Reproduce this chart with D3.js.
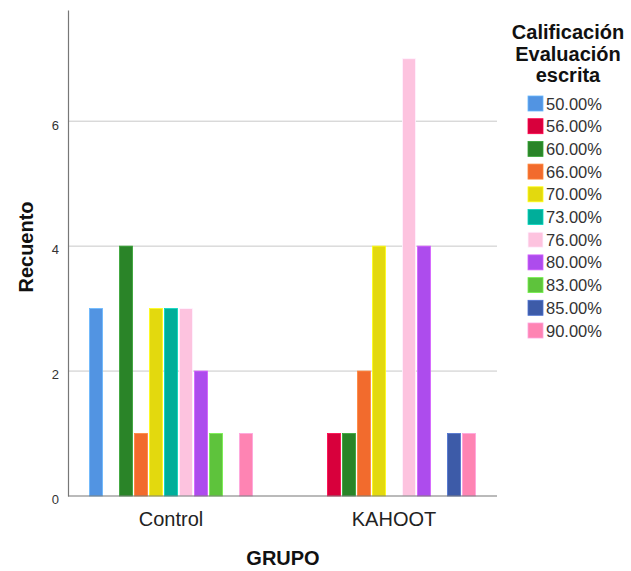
<!DOCTYPE html>
<html>
<head>
<meta charset="utf-8">
<script src="https://cdn.jsdelivr.net/npm/d3@7"></script>
<style>
  body { margin: 0; background: #fff; }
  text { font-family: "Liberation Sans", Arial, sans-serif; }
</style>
</head>
<body>
<div id="chart-area"></div>
<script>
// data
var groups = ["Control", "KAHOOT"];
var grades = ["50.00%", "56.00%", "60.00%", "66.00%", "70.00%", "73.00%", "76.00%", "80.00%", "83.00%", "85.00%", "90.00%"];
var controlCounts = [3, 0, 4, 1, 3, 3, 3, 2, 1, 0, 1];
var kahootCounts  = [0, 1, 1, 2, 4, 0, 7, 4, 0, 1, 1];
var gradeColors = ["#5294e2", "#d8003c", "#2a8428", "#f26b2d", "#e3d90e", "#00ae9a", "#fdc3df", "#ad4ced", "#5ec33c", "#3d5ba8", "#fe84b3"];
var yTicks = [0, 2, 4, 6];

var width = 631, height = 571;
var plot = {left: 68, right: 497, top: 10, bottom: 496};

var svg = d3.select("#chart-area")
    .append("svg")
    .attr("width", width)
    .attr("height", height);

var rows = [];
groups.forEach((g, gi) => {
    var counts = gi === 0 ? controlCounts : kahootCounts;
    grades.forEach((k, ki) => {
        rows.push({group: g, grade: k, value: counts[ki]});
    });
});

var x0 = d3.scaleBand()
    .domain(groups)
    .range([plot.left, plot.right])
    .paddingInner(0.26)
    .paddingOuter(0.092);

var x1 = d3.scaleBand()
    .domain(grades)
    .range([0, x0.bandwidth()])
    .paddingInner(0.13)
    .paddingOuter(0.065);

var y = d3.scaleLinear()
    .domain([0, 7.78])
    .range([plot.bottom, plot.top]);

var color = d3.scaleOrdinal()
    .domain(grades)
    .range(gradeColors);

// gridlines
svg.append("g")
    .selectAll("line")
    .data(yTicks.filter((d) => d > 0))
    .enter()
    .append("line")
        .attr("x1", plot.left)
        .attr("x2", plot.right)
        .attr("y1", (d) => y(d))
        .attr("y2", (d) => y(d))
        .attr("stroke", "#c8c8c8")
        .attr("stroke-width", 1);

// bars
svg.append("g")
    .selectAll("rect")
    .data(rows.filter((d) => d.value > 0))
    .enter()
    .append("rect")
        .attr("x", (d) => x0(d.group) + x1(d.grade))
        .attr("y", (d) => y(d.value))
        .attr("width", x1.bandwidth())
        .attr("height", (d) => y(0) - y(d.value))
        .attr("fill", (d) => color(d.grade))
        .attr("stroke", (d) => d3.color(color(d.grade)).brighter(0.6))
        .attr("stroke-width", 0.8);

// y axis
var yAxisCall = d3.axisLeft(y)
    .tickValues(yTicks)
    .tickSize(0)
    .tickPadding(9)
    .tickFormat(d3.format("d"));
var yAxis = svg.append("g")
    .attr("transform", "translate(" + plot.left + ",0)")
    .call(yAxisCall);
yAxis.select(".domain").attr("stroke", "#777").attr("stroke-width", 1.2);
yAxis.selectAll("text")
    .attr("font-size", "13px")
    .attr("fill", "#333")
    .attr("dy", "0.6em");

// x axis
var xAxisCall = d3.axisBottom(x0).tickSize(0).tickPadding(16);
var xAxis = svg.append("g")
    .attr("transform", "translate(0," + plot.bottom + ")")
    .call(xAxisCall);
xAxis.select(".domain")
    .attr("d", "M" + plot.left + ",0H" + plot.right)
    .attr("stroke", "#777").attr("stroke-width", 1.2);
xAxis.selectAll("text")
    .attr("font-size", "20px")
    .attr("fill", "#222");

// axis labels
svg.append("text")
    .attr("x", 283)
    .attr("y", 565)
    .attr("text-anchor", "middle")
    .attr("font-size", "20px")
    .attr("font-weight", "bold")
    .attr("fill", "#111")
    .text("GRUPO");

svg.append("text")
    .attr("transform", "translate(33,247) rotate(-90)")
    .attr("text-anchor", "middle")
    .attr("font-size", "20px")
    .attr("font-weight", "bold")
    .attr("fill", "#111")
    .text("Recuento");

// legend
var legendTitle = ["Calificación", "Evaluación", "escrita"];
svg.append("g")
    .selectAll("text")
    .data(legendTitle)
    .enter()
    .append("text")
        .attr("x", 568)
        .attr("y", (d, i) => 39 + i * 21.5)
        .attr("text-anchor", "middle")
        .attr("font-size", "20px")
        .attr("font-weight", "bold")
        .attr("fill", "#111")
        .text((d) => d);

var legend = svg.append("g")
    .selectAll("g")
    .data(grades)
    .enter()
    .append("g")
        .attr("transform", (d, i) => "translate(528," + (96 + i * 22.7) + ")");
legend.append("rect")
    .attr("width", 15)
    .attr("height", 15)
    .attr("fill", (d) => color(d))
    .attr("stroke", (d) => d3.color(color(d)).brighter(0.6))
    .attr("stroke-width", 0.8);
legend.append("text")
    .attr("x", 18)
    .attr("y", 13.5)
    .attr("font-size", "16.5px")
    .attr("fill", "#333")
    .text((d) => d);
</script>
</body>
</html>
